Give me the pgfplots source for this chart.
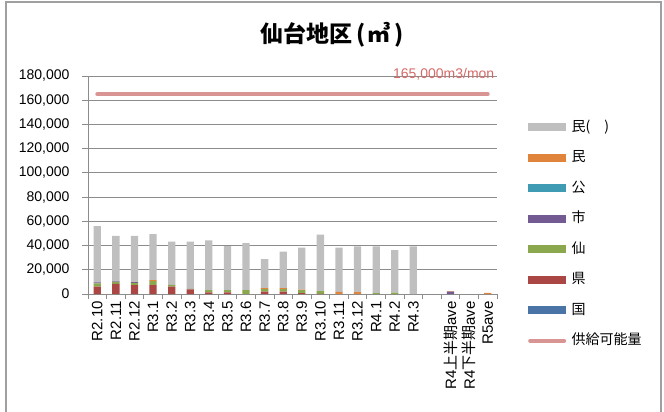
\documentclass[border=0pt]{standalone}
\usepackage{fontspec}
\setmainfont{Liberation Sans}
\newfontfamily\cjk{Noto Sans CJK JP}
\usepackage{pgfplots}
\usepackage{pgfplotstable}
\pgfplotsset{compat=1.18}
\definecolor{cGray}{HTML}{BFBFBF}
\definecolor{cOrange}{HTML}{E0843C}
\definecolor{cTeal}{HTML}{3F9AB3}
\definecolor{cPurple}{HTML}{735A93}
\definecolor{cGreen}{HTML}{8CA84F}
\definecolor{cRed}{HTML}{AA4644}
\definecolor{cBlue}{HTML}{4A73A6}
\definecolor{cLine}{HTML}{D99594}
\definecolor{cLabel}{HTML}{D46A67}
\definecolor{cGrid}{HTML}{8C8C8C}
\pgfplotstableread{
x kuni ken sen shi ko min minp
0  0 6000 2800 800 0 0    46500
1  0 8300 1700 500 0 0    37400
2  0 7400 1700 800 0 0    38000
3  0 7400 3300 0   0 800  38000
4  0 6000 1500 0   0 0    35700
5  0 3800 400  0   0 0    39000
6  0 1400 1900 0   0 0    41000
7  0 1400 1900 0   0 0    36300
8  0 0    3300 0   0 0    38800
9  0 1900 2200 0   0 800  24000
10 0 1900 2200 0   0 800  30000
11 0 800  2500 0   0 300  34600
12 0 200  2200 0   0 0    46600
13 0 0    0    0   0 1700 36500
14 0 0    0    0   0 1600 37800
15 0 0    800  0   0 0    38600
16 0 0    1100 0   0 0    35200
17 0 0    0    0   0 0    39400
18 0 0    0    0   0 0    0
19 0 0    0    1900 0 500 0
20 0 0    0    0   0 0    0
21 0 0    0    0   0 1000 0
}\data
\begin{document}
\begin{tikzpicture}
\useasboundingbox (0,0) rectangle (664bp,-412bp);
\draw[gray!75, line width=1.5bp] (6bp,-420bp) -- (6bp,-2bp) -- (661bp,-2bp) -- (661bp,-420bp);
\node[font=\cjk\bfseries\fontsize{23bp}{25bp}\selectfont] at (332bp,-35bp) {仙台地区\hspace{4bp}(\hspace{2bp}㎥\hspace{4bp})};
\begin{axis}[
  at={(88bp,-294bp)}, anchor=south west,
  width=409bp, height=218bp, scale only axis,
  xmin=-0.5, xmax=21.5, ymin=0, ymax=180000,
  ybar stacked, bar width=7.3bp,
  axis lines*=left,
  axis line style={draw=cGrid, line width=0.8bp},
  ymajorgrids, grid style={draw=cGrid, line width=0.8bp},
  ytick={0,20000,40000,60000,80000,100000,120000,140000,160000,180000},
  yticklabels={0,{20,000},{40,000},{60,000},{80,000},{100,000},{120,000},{140,000},{160,000},{180,000}},
  scaled y ticks=false,
  xtick={0,...,21},
  xticklabels={R2.10,R2.11,R2.12,R3.1,R3.2,R3.3,R3.4,R3.5,R3.6,R3.7,R3.8,R3.9,R3.10,R3.11,R3.12,R4.1,R4.2,R4.3,{},{R4{\cjk 上半期}ave},{R4{\cjk 下半期}ave},R5ave},
  minor xtick={-0.5,0.5,...,21.5},
  tick align=outside,
  major tick length=6bp, minor tick length=5bp,
  major x tick style={draw=none},
  minor x tick style={draw=cGrid, line width=0.8bp},
  major y tick style={draw=cGrid, line width=0.8bp},
  yticklabel style={font=\fontsize{14bp}{16bp}\selectfont, xshift=-9bp},
  xticklabel style={font=\fontsize{15bp}{17bp}\selectfont, rotate=90, anchor=east, inner sep=1bp},
  clip=false,
  legend style={draw=none, fill=none, at={(axis description cs:1.066,0.805)}, anchor=north west,
    inner sep=0pt, row sep=13.5bp, font=\cjk\fontsize{14bp}{16bp}\selectfont,
    nodes={inner sep=1.5bp, text height=11bp, text depth=3bp, anchor=west}},
]
\addplot[fill=cBlue, draw=none, forget plot] table[x=x, y=kuni] {\data};
\addplot[fill=cRed, draw=none, forget plot] table[x=x, y=ken] {\data};
\addplot[fill=cGreen, draw=none, forget plot] table[x=x, y=sen] {\data};
\addplot[fill=cPurple, draw=none, forget plot] table[x=x, y=shi] {\data};
\addplot[fill=cTeal, draw=none, forget plot] table[x=x, y=ko] {\data};
\addplot[fill=cOrange, draw=none, forget plot] table[x=x, y=min] {\data};
\addplot[fill=cGray, draw=none, forget plot] table[x=x, y=minp] {\data};
\node[anchor=base west, text=cLabel, font=\fontsize{14bp}{16bp}\selectfont, inner sep=0pt] at (axis cs:15.9,178300) {165,000m3/mon};
\addlegendimage{legend image code/.code={\draw[line width=8bp, cGray] (0bp,0bp) -- (38bp,0bp);}}
\addlegendentry{民(\hspace{14bp})}
\addlegendimage{legend image code/.code={\draw[line width=8bp, cOrange] (0bp,0bp) -- (38bp,0bp);}}
\addlegendentry{民}
\addlegendimage{legend image code/.code={\draw[line width=8bp, cTeal] (0bp,0bp) -- (38bp,0bp);}}
\addlegendentry{公}
\addlegendimage{legend image code/.code={\draw[line width=8bp, cPurple] (0bp,0bp) -- (38bp,0bp);}}
\addlegendentry{市}
\addlegendimage{legend image code/.code={\draw[line width=8bp, cGreen] (0bp,0bp) -- (38bp,0bp);}}
\addlegendentry{仙}
\addlegendimage{legend image code/.code={\draw[line width=8bp, cRed] (0bp,0bp) -- (38bp,0bp);}}
\addlegendentry{県}
\addlegendimage{legend image code/.code={\draw[line width=8bp, cBlue] (0bp,0bp) -- (38bp,0bp);}}
\addlegendentry{国}
\addlegendimage{legend image code/.code={\draw[line width=4bp, cLine, line cap=round] (2bp,0bp) -- (36bp,0bp);}}
\addlegendentry{供給可能量}
\end{axis}
\begin{axis}[
  at={(88bp,-294bp)}, anchor=south west,
  width=409bp, height=218bp, scale only axis,
  xmin=-0.5, xmax=21.5, ymin=0, ymax=180000,
  hide axis,
]
\addplot[cLine, line width=4bp, line cap=round] coordinates {(0,165000) (21,165000)};
\end{axis}
\end{tikzpicture}
\end{document}
